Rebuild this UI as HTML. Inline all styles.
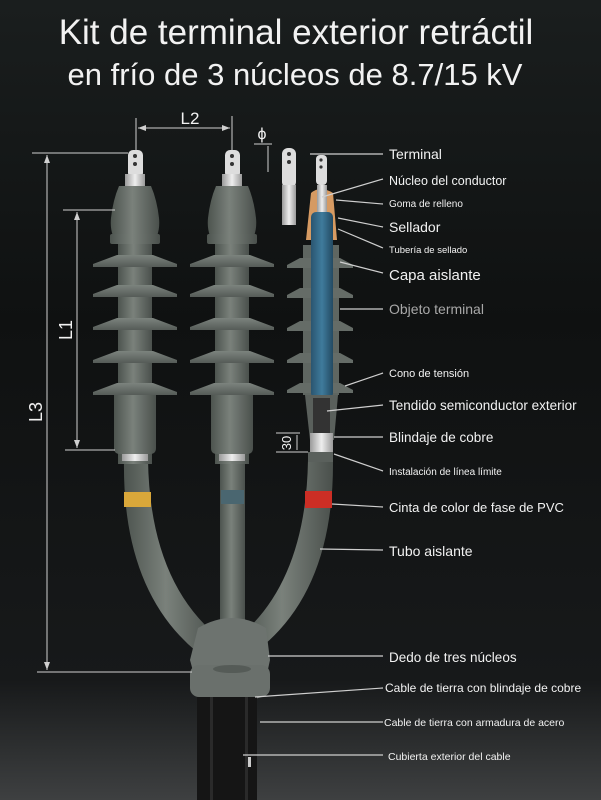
<!DOCTYPE html>
<html><head><meta charset="utf-8"><style>
html,body{margin:0;padding:0;background:#101212;}
svg{display:block}
text{font-family:"Liberation Sans",sans-serif;fill:#f2f2f2}
</style></head><body>
<svg width="601" height="800" viewBox="0 0 601 800" xmlns="http://www.w3.org/2000/svg">
<defs>
<linearGradient id="bg" x1="0" y1="0" x2="0" y2="1">
<stop offset="0" stop-color="#1a1e1e"/><stop offset="0.4" stop-color="#0f1111"/><stop offset="0.85" stop-color="#17191a"/><stop offset="1" stop-color="#3e4041"/></linearGradient>
<linearGradient id="gr" x1="0" y1="0" x2="1" y2="0">
<stop offset="0" stop-color="#4d544f"/><stop offset="0.45" stop-color="#7a817b"/><stop offset="1" stop-color="#4a504c"/></linearGradient>
<linearGradient id="sh" x1="0" y1="0" x2="0" y2="1">
<stop offset="0" stop-color="#7c837e"/><stop offset="1" stop-color="#555b57"/></linearGradient>
<linearGradient id="bl" x1="0" y1="0" x2="1" y2="0">
<stop offset="0" stop-color="#2a5570"/><stop offset="0.5" stop-color="#3f7b9c"/><stop offset="1" stop-color="#234a62"/></linearGradient>
<linearGradient id="sv" x1="0" y1="0" x2="1" y2="0">
<stop offset="0" stop-color="#9a9a9a"/><stop offset="0.5" stop-color="#eeeeee"/><stop offset="1" stop-color="#9a9a9a"/></linearGradient>
<g id="shed">
<path d="M-18 0 L18 0 L42 9 L42 12 L-42 12 L-42 9Z" fill="url(#sh)"/>
</g>
<g id="ins">
<rect x="-7" y="0" width="15" height="28" rx="5" fill="#ddd"/>
<circle cx="0" cy="6" r="2" fill="#333"/><circle cx="0" cy="14" r="2" fill="#333"/>
<rect x="-10" y="24" width="20" height="14" fill="url(#sv)"/>
<path d="M-16 36 L16 36 Q22 50 24 68 Q25 78 22 86 L-22 86 Q-25 78 -24 68 Q-22 50 -16 36Z" fill="url(#gr)"/>
<rect x="-25" y="84" width="50" height="10" rx="2" fill="url(#gr)"/>
<rect x="-17" y="94" width="34" height="220" fill="url(#gr)"/>
<use href="#shed" y="105"/>
<use href="#shed" y="135"/>
<use href="#shed" y="168"/>
<use href="#shed" y="201"/>
<use href="#shed" y="233"/>
<path d="M-21 245 L21 245 L21 298 Q21 304 15 304 L-15 304 Q-21 304 -21 298Z" fill="url(#gr)"/>
<rect x="-13" y="304" width="26" height="7" fill="url(#sv)"/>
</g>
</defs>
<rect width="601" height="800" fill="url(#bg)"/>
<text x="296" y="44" font-size="35" text-anchor="middle">Kit de terminal exterior retráctil</text>
<text x="295" y="85" font-size="31" text-anchor="middle">en frío de 3 núcleos de 8.7/15 kV</text>

<!-- tubes -->
<path d="M124 460 L148 460 Q150 580 217 636 L197 652 Q122 590 124 460Z" fill="url(#gr)"/>
<rect x="220" y="460" width="25" height="185" fill="url(#gr)"/>
<path d="M308 460 L333 460 Q334 585 264 645 L240 636 Q306 580 308 460Z" fill="url(#gr)"/>
<rect x="124" y="492" width="27" height="15" fill="#d9a73a"/>
<rect x="221" y="490" width="23" height="14" fill="#4a6670"/>
<rect x="305" y="491" width="27" height="17" fill="#cc2e25"/>
<!-- junction -->
<path d="M198 628 Q232 608 266 628 L270 660 L262 697 Q232 706 200 697 L190 660Z" fill="#6d736f"/>
<rect x="190" y="665" width="80" height="32" rx="9" fill="#6a706c"/>
<ellipse cx="232" cy="669" rx="19" ry="4" fill="#555b57"/>
<rect x="197" y="697" width="60" height="103" fill="#151515"/>
<rect x="210" y="697" width="3" height="103" fill="#2a2a2a"/>
<rect x="245" y="697" width="3" height="103" fill="#2a2a2a"/>
<rect x="248" y="757" width="3" height="10" fill="#ccc"/>

<use href="#ins" x="135" y="150"/>
<use href="#ins" x="232" y="150"/>

<!-- right assembly -->
<rect x="303" y="245" width="36" height="150" fill="#5f6661"/>
<g fill="#656c67">
<path d="M300 258 L340 258 L353 265 L353 268 L287 268 L287 265Z"/>
<path d="M300 288 L340 288 L353 295 L353 298 L287 298 L287 295Z"/>
<path d="M300 321 L340 321 L353 328 L353 331 L287 331 L287 328Z"/>
<path d="M300 353 L340 353 L353 360 L353 363 L287 363 L287 360Z"/>
<path d="M300 383 L340 383 L353 390 L353 393 L287 393 L287 390Z"/>
</g>
<rect x="316" y="155" width="11" height="30" rx="4" fill="#ddd"/>
<circle cx="321" cy="160" r="1.6" fill="#333"/><circle cx="321" cy="167" r="1.6" fill="#333"/>
<path d="M311 193 Q320 185 333 193 L337 240 L306 240Z" fill="#d69a62"/>
<rect x="317" y="185" width="10" height="35" fill="url(#sv)"/>
<rect x="311" y="212" width="22" height="186" rx="5" fill="url(#bl)"/>
<path d="M305 395 L338 395 L334 440 L310 440Z" fill="#5a605c"/>
<path d="M313 398 L330 398 L330 433 L313 433Z" fill="#333"/>
<rect x="310" y="433" width="23" height="19" fill="url(#sv)"/>
<rect x="308" y="452" width="25" height="10" fill="#5a605c"/>

<!-- loose lug -->
<rect x="282" y="148" width="14" height="40" rx="6" fill="#ddd"/>
<circle cx="289" cy="154" r="2" fill="#333"/><circle cx="289" cy="162" r="2" fill="#333"/>
<rect x="282" y="185" width="14" height="40" fill="url(#sv)"/>

<!-- dimensions -->
<g stroke="#d0d0d0" stroke-width="1" fill="none">
<line x1="32" y1="153" x2="128" y2="153"/><line x1="37" y1="672" x2="192" y2="672"/>
<line x1="47" y1="155" x2="47" y2="670"/>
<line x1="63" y1="210" x2="115" y2="210"/><line x1="65" y1="450" x2="115" y2="450"/>
<line x1="77" y1="212" x2="77" y2="448"/>
<line x1="136" y1="118" x2="136" y2="150"/><line x1="232" y1="116" x2="232" y2="150"/>
<line x1="138" y1="128" x2="230" y2="128"/>
<line x1="254" y1="144" x2="272" y2="144"/>
<line x1="268" y1="146" x2="268" y2="172"/>
<line x1="276" y1="433" x2="300" y2="433"/><line x1="276" y1="452" x2="308" y2="452"/>
<line x1="297" y1="435" x2="297" y2="450"/>
</g>
<g fill="#d0d0d0">
<path d="M47 155 l-3 8 h6z"/><path d="M47 670 l-3 -8 h6z"/>
<path d="M77 212 l-3 8 h6z"/><path d="M77 448 l-3 -8 h6z"/>
<path d="M138 128 l8 -3 v6z"/><path d="M230 128 l-8 -3 v6z"/>
</g>
<text x="190" y="124" font-size="17" text-anchor="middle">L2</text>
<text x="262" y="139" font-size="16" text-anchor="middle">ϕ</text>
<text transform="translate(42,412) rotate(-90)" font-size="18" text-anchor="middle">L3</text>
<text transform="translate(72,330) rotate(-90)" font-size="18" text-anchor="middle">L1</text>
<text transform="translate(291,443) rotate(-90)" font-size="13" text-anchor="middle">30</text>

<!-- leaders -->
<g stroke="#cfcfcf" stroke-width="1.2" fill="none">
<line x1="383" y1="154" x2="310" y2="154"/>
<line x1="383" y1="179" x2="322" y2="197"/>
<line x1="383" y1="204" x2="336" y2="200"/>
<line x1="383" y1="227" x2="338" y2="218"/>
<line x1="383" y1="248" x2="338" y2="229"/>
<line x1="383" y1="273" x2="340" y2="262"/>
<line x1="383" y1="309" x2="340" y2="309"/>
<line x1="383" y1="373" x2="345" y2="386"/>
<line x1="383" y1="405" x2="327" y2="411"/>
<line x1="383" y1="437" x2="334" y2="437"/>
<line x1="383" y1="471" x2="334" y2="454"/>
<line x1="383" y1="507" x2="332" y2="504"/>
<line x1="383" y1="550" x2="320" y2="549"/>
<line x1="383" y1="656" x2="268" y2="656"/>
<line x1="383" y1="688" x2="255" y2="697"/>
<line x1="383" y1="722" x2="260" y2="722"/>
<line x1="383" y1="755" x2="243" y2="755"/>
</g>
<g font-size="13">
<text x="389" y="159" font-size="14">Terminal</text>
<text x="389" y="185" font-size="12.5">Núcleo del conductor</text>
<text x="389" y="207" font-size="10">Goma de relleno</text>
<text x="389" y="232" font-size="14">Sellador</text>
<text x="389" y="253" font-size="9.5">Tubería de sellado</text>
<text x="389" y="280" font-size="15">Capa aislante</text>
<text x="389" y="314" font-size="14" style="fill:#a8a8a8">Objeto terminal</text>
<text x="389" y="377" font-size="11">Cono de tensión</text>
<text x="389" y="410" font-size="13.5">Tendido semiconductor exterior</text>
<text x="389" y="442" font-size="13.5">Blindaje de cobre</text>
<text x="389" y="475" font-size="10">Instalación de línea límite</text>
<text x="389" y="512" font-size="13">Cinta de color de fase de PVC</text>
<text x="389" y="556" font-size="14">Tubo aislante</text>
<text x="389" y="662" font-size="13.5">Dedo de tres núcleos</text>
<text x="385" y="692" font-size="12">Cable de tierra con blindaje de cobre</text>
<text x="384" y="726" font-size="10.5">Cable de tierra con armadura de acero</text>
<text x="388" y="760" font-size="10.5">Cubierta exterior del cable</text>
</g>
</svg>
</body></html>
